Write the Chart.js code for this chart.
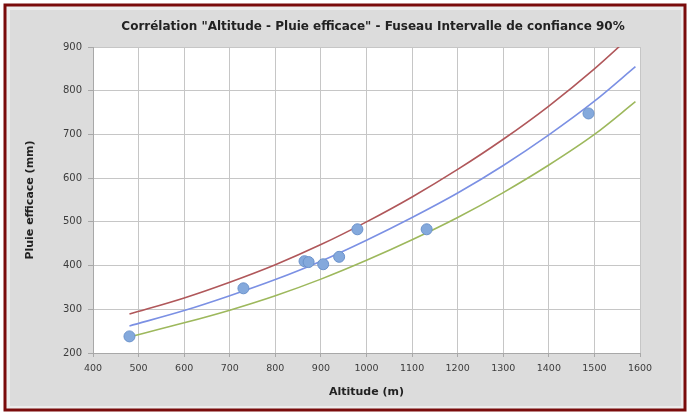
<!DOCTYPE html>
<html>
<head>
<meta charset="utf-8">
<script src="https://cdn.jsdelivr.net/npm/chart.js@4/dist/chart.umd.min.js"></script>
<style>
    html, body { margin: 0; padding: 0; background: #ffffff; }
    #wrap { position: absolute; left: 0; top: 0; width: 691px; height: 412px; }
</style>
</head>
<body>
<div id="wrap"><canvas id="altChart" width="691" height="412"></canvas></div>
<script>
// ===== Données =====
const TITLE = 'Corrélation "Altitude - Pluie efficace" - Fuseau Intervalle de confiance 90%';

// mesures (altitude en m, pluie efficace en mm)
const altitudes = [480, 730, 864, 873, 905, 940, 980, 1132, 1487];
const pluie = [238, 348, 410, 408, 403, 420, 483, 483, 748];

// courbe de régression et bornes du fuseau
const curveAltitudes = [480, 600, 700, 800, 900, 1000, 1100, 1200, 1300, 1400, 1500, 1590];
const regression = [262, 297, 331, 368, 410, 458, 510, 566, 629, 699, 776, 855];
const upperBound = [289, 326, 362, 402, 448, 500, 557, 620, 689, 765, 850, 935];
const lowerBound = [237, 269, 298, 331, 369, 412, 459, 510, 567, 630, 700, 775];

const xTicks = [400, 500, 600, 700, 800, 900, 1000, 1100, 1200, 1300, 1400, 1500, 1600];
const yTicks = [200, 300, 400, 500, 600, 700, 800, 900];

const FONT = '"DejaVu Sans", Verdana, sans-serif';

const toPoints = (xs, ys) => xs.map((x, i) => ({ x, y: ys[i] }));

// fond gris, cadre rouge, zone de tracé blanche, titre
const framePlugin = {
    id: 'frame',
    beforeDraw(chart) {
        const { ctx, chartArea: a } = chart;
        ctx.save();
        ctx.fillStyle = '#ffffff';
        ctx.fillRect(0, 0, chart.width, chart.height);
        ctx.fillStyle = '#ececec';
        ctx.fillRect(5, 5, 680, 405);
        ctx.fillStyle = '#dcdcdc';
        ctx.fillRect(10, 10, 671, 396);
        ctx.fillStyle = '#ffffff';
        ctx.fillRect(a.left, a.top, a.right - a.left, a.bottom - a.top);
        ctx.strokeStyle = '#7a0c0c';
        ctx.lineWidth = 3;
        ctx.strokeRect(5, 5, 680, 405);
        ctx.restore();
    },
    afterDraw(chart) {
        const ctx = chart.ctx;
        ctx.save();
        ctx.font = 'bold 12px ' + FONT;
        ctx.fillStyle = '#222222';
        ctx.textAlign = 'center';
        ctx.textBaseline = 'middle';
        ctx.fillText(TITLE, 373, 27);
        ctx.restore();
    }
};

const lineSet = (label, data, color) => ({
    label,
    data: toPoints(curveAltitudes, data),
    showLine: true,
    borderColor: color,
    borderWidth: 1.6,
    pointRadius: 0,
    fill: false,
    cubicInterpolationMode: 'monotone',
    order: 2
});

new Chart(document.getElementById('altChart'), {
    type: 'scatter',
    data: {
        datasets: [
            {
                label: 'Mesures',
                data: toPoints(altitudes, pluie),
                backgroundColor: '#84a9dc',
                borderColor: '#6c93cc',
                borderWidth: 1,
                pointRadius: 5.5,
                order: 0
            },
            lineSet('Borne supérieure', upperBound, '#b0575a'),
            lineSet('Régression', regression, '#7b90e4'),
            lineSet('Borne inférieure', lowerBound, '#9db85c')
        ]
    },
    options: {
        responsive: false,
        animation: false,
        layout: { padding: { left: 12, right: 51, top: 47, bottom: 10 } },
        plugins: {
            legend: { display: false },
            tooltip: { enabled: false }
        },
        scales: {
            x: {
                type: 'linear',
                min: 400,
                max: 1600,
                afterBuildTicks: s => { s.ticks = xTicks.map(v => ({ value: v })); },
                afterFit: s => { s.height = 49; },
                grid: { color: '#c6c6c6', tickLength: 4, tickColor: '#a8a8a8' },
                border: { color: '#a8a8a8' },
                ticks: {
                    color: '#3c3c3c',
                    padding: 6,
                    maxRotation: 0,
                    callback: v => String(v),
                    font: { family: FONT, size: 9.5 }
                },
                title: {
                    display: true,
                    text: 'Altitude (m)',
                    color: '#222222',
                    padding: { top: 0, bottom: 3 },
                    font: { family: FONT, size: 11, weight: 'bold' }
                }
            },
            y: {
                min: 200,
                max: 900,
                afterBuildTicks: s => { s.ticks = yTicks.map(v => ({ value: v })); },
                afterFit: s => { s.width = 81; },
                grid: { color: '#c6c6c6', tickLength: 5, tickColor: '#a8a8a8' },
                border: { color: '#a8a8a8' },
                ticks: {
                    color: '#3c3c3c',
                    padding: 6,
                    callback: v => String(v),
                    font: { family: FONT, size: 10 }
                },
                title: {
                    display: true,
                    text: 'Pluie efficace (mm)',
                    color: '#222222',
                    padding: { top: 12, bottom: 0 },
                    font: { family: FONT, size: 11, weight: 'bold' }
                }
            }
        }
    },
    plugins: [framePlugin]
});
</script>
</body>
</html>
